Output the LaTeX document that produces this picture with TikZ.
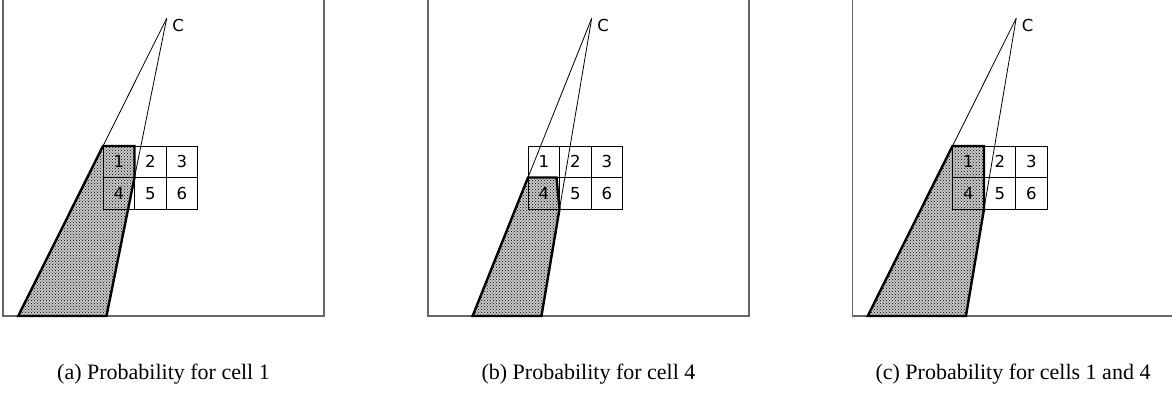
\documentclass[tikz,border=0pt]{standalone}
\usepackage{fontspec}
\setmainfont{Liberation Serif}
\newfontfamily\cellfont{DejaVu Sans}
\usetikzlibrary{patterns,calc}
\tikzset{
  frame/.style={draw=black!60, line width=1.3pt},
  cell/.style={draw, line width=0.8pt, minimum width=31.5pt, minimum height=31.5pt,
    inner sep=0pt, outer sep=0pt, font=\cellfont\fontsize{16.5}{16.5}\selectfont},
  ray/.style={line width=0.8pt},
  shade/.style={preaction={fill=black, fill opacity=0.22}, pattern=crosshatch dots, draw, line width=2.4pt, line join=miter},
  clabel/.style={anchor=west, inner sep=0pt, font=\cellfont\fontsize{16.5}{16.5}\selectfont},
  capt/.style={anchor=base, inner sep=0pt, font=\fontsize{22}{24}\selectfont},
}
\newcommand{\panelbase}[1]{%
  \draw[frame] (3,-5) -- (3,316) -- (324,316) -- (324,-5);
  \coordinate (#1BL) at (3,316);
  \coordinate (#1BR) at (324,316);
  \node[cell] (#11) at (118.75,161.75) {1};
  \node[cell] (#12) at (150.25,161.75) {2};
  \node[cell] (#13) at (181.75,161.75) {3};
  \node[cell] (#14) at (118.75,193.25) {4};
  \node[cell] (#15) at (150.25,193.25) {5};
  \node[cell] (#16) at (181.75,193.25) {6};
  \coordinate (#1C) at (166.7,18.3);
  \node[clabel] (#1Cl) at ($(#1C)+(5.5,7)$) {C};
}
\begin{document}
\begin{tikzpicture}[x=1pt, y=-1pt]
\useasboundingbox (0,0) rectangle (1172,392);
\clip (0,0) rectangle (1172,392);

% panel (a)
\begin{scope}
  \panelbase{a}
  \coordinate (aP) at (a1.north west);
  \coordinate (aQ) at (a1.north east);
  \coordinate (aR) at (a1.south east);
  \coordinate (aS) at (intersection of aC--aR and aBL--aBR);
  \coordinate (aT) at (intersection of aC--aP and aBL--aBR);
  \draw[shade] (aP) -- (aQ) -- (aR) -- (aS) -- (aT) -- cycle;
  \draw[ray] (aC) -- (aP);
  \draw[ray] (aC) -- (aR);
  \node[capt] (acap) at (163.5,379) {(a) Probability for cell 1};
\end{scope}

% panel (b)
\begin{scope}[xshift=425pt]
  \panelbase{b}
  \coordinate (bP) at (b4.north west);
  \coordinate (bQ) at ($(b4.north east)+(-3,0)$);
  \coordinate (bR) at (b4.south east);
  \coordinate (bS) at (intersection of bC--bR and bBL--bBR);
  \coordinate (bT) at (intersection of bC--bP and bBL--bBR);
  \draw[shade] (bP) -- (bQ) -- (bR) -- (bS) -- (bT) -- cycle;
  \draw[ray] (bC) -- (bP);
  \draw[ray] (bC) -- (bR);
  \node[capt] (bcap) at (163.5,379) {(b) Probability for cell 4};
\end{scope}

% panel (c)
\begin{scope}[xshift=849.5pt]
  \panelbase{c}
  \coordinate (cP) at (c1.north west);
  \coordinate (cQ) at (c1.north east);
  \coordinate (cR) at (c4.south east);
  \coordinate (cS) at (intersection of cC--cR and cBL--cBR);
  \coordinate (cT) at (intersection of cC--cP and cBL--cBR);
  \draw[shade] (cP) -- (cQ) -- (cR) -- (cS) -- (cT) -- cycle;
  \draw[ray] (cC) -- (cP);
  \draw[ray] (cC) -- (cR);
  \node[capt] (ccap) at (163.5,379) {(c) Probability for cells 1 and 4};
\end{scope}
\end{tikzpicture}
\end{document}
